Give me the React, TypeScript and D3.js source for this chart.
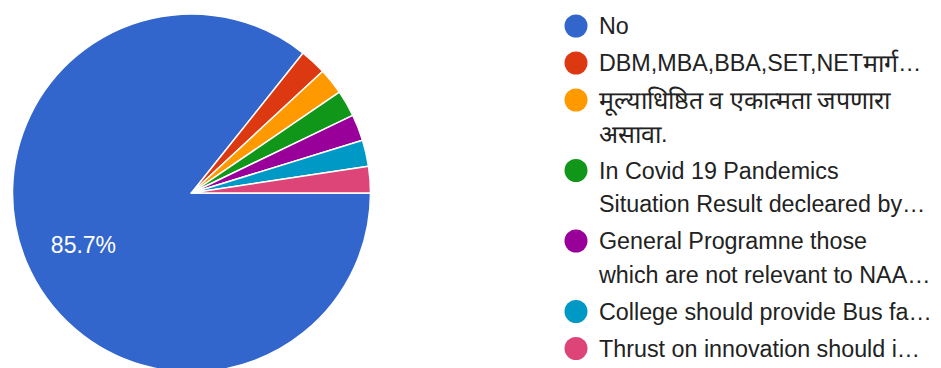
import React from "react";
import * as d3 from "d3";

const categories = [
  "No",
  "DBM,MBA,BBA,SET,NETमार्ग…",
  "मूल्याधिष्ठित व एकात्मता जपणारा\nअसावा.",
  "In Covid 19 Pandemics\nSituation Result decleared by…",
  "General Programne those\nwhich are not relevant to NAA…",
  "College should provide Bus fa…",
  "Thrust on innovation should i…",
];
const counts = [36, 1, 1, 1, 1, 1, 1];
const colors = ["#3366cc", "#dc3912", "#ff9900", "#109618", "#990099", "#0099c6", "#dd4477"];

const W = 941;
const H = 368;
const cx = 191.5;
const cy = 193;
const R = 179;

function runs(s: string) {
  const parts: { t: string; deva: boolean }[] = [];
  const re = /[\u0900-\u097F]+/g;
  let last = 0;
  let m: RegExpExecArray | null;
  while ((m = re.exec(s))) {
    if (m.index > last) parts.push({ t: s.slice(last, m.index), deva: false });
    parts.push({ t: m[0], deva: true });
    last = m.index + m[0].length;
  }
  if (last < s.length) parts.push({ t: s.slice(last), deva: false });
  return parts;
}

export default function App() {
  const total = d3.sum(counts);
  const pie = d3
    .pie<number>()
    .sort(null)
    .value((d) => d)
    .startAngle(Math.PI / 2)
    .endAngle(Math.PI / 2 + 2 * Math.PI);
  const arcs = pie(counts);
  const arcGen = d3.arc<d3.PieArcDatum<number>>().innerRadius(0).outerRadius(R);
  const labelArc = d3.arc<d3.PieArcDatum<number>>().innerRadius(R * 0.67).outerRadius(R * 0.67);
  const fmt = d3.format(".1%");

  const lineH = 33.5;
  const gap = 3.5;
  let y = 26;
  const legendItems = categories.map((c, i) => {
    const lines = c.split("\n");
    const item = { lines, y, color: colors[i] };
    y += lines.length * lineH + gap;
    return item;
  });

  return (
    <svg
      width={W}
      height={H}
      style={{ position: "absolute", left: 0, top: 0, background: "#fff" }}
    >
      <g transform={`translate(${cx},${cy})`}>
        {arcs.map((a, i) => (
          <path key={i} d={arcGen(a) || ""} fill={colors[i]} stroke="#fff" strokeWidth={1.5} strokeLinejoin="round" />
        ))}
        {arcs
          .filter((a) => a.value / total > 0.05)
          .map((a, i) => {
            const [lx, ly] = labelArc.centroid(a);
            return (
              <text
                key={i}
                x={lx}
                y={ly}
                fill="#fff"
                fontFamily="Arial, 'Liberation Sans', sans-serif"
                fontSize={23}
                textAnchor="middle"
                dominantBaseline="central"
              >
                {fmt(a.value / total)}
              </text>
            );
          })}
      </g>
      <g>
        {legendItems.map((it, i) => (
          <g key={i}>
            <circle cx={576} cy={it.y} r={11.5} fill={it.color} />
            {it.lines.map((l, j) => (
              <text
                key={j}
                x={599}
                y={it.y + j * lineH}
                dominantBaseline="central"
                fontFamily="Arial, 'Liberation Sans', sans-serif"
                fontSize={23.3}
                fill="#222"
              >
                {runs(l).map((r, k) => (
                  <tspan key={k} fontSize={r.deva ? 25 : undefined}>
                    {r.t}
                  </tspan>
                ))}
              </text>
            ))}
          </g>
        ))}
      </g>
    </svg>
  );
}
